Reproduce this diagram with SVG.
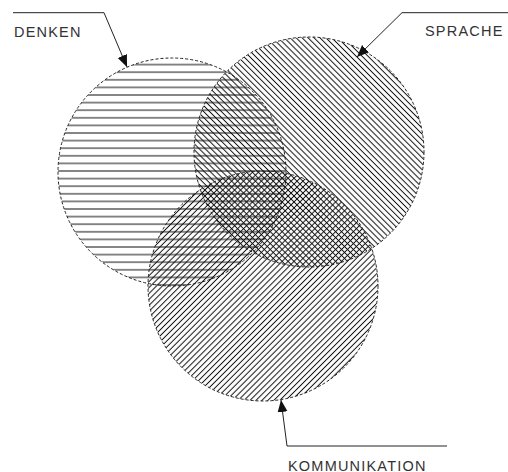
<svg xmlns="http://www.w3.org/2000/svg" width="508" height="472" viewBox="0 0 508 472">
<defs>
<style>
.outline{fill:none;stroke:#222;stroke-width:1;stroke-dasharray:3 2}
.lbl{font-family:"Liberation Sans",Arial,sans-serif;font-size:14.5px;fill:#333;letter-spacing:1.2px}
.lead{fill:none;stroke:#222;stroke-width:1;marker-end:url(#arr)}
.hl{stroke:#111;stroke-width:1}
</style>
<pattern id="hH" patternUnits="userSpaceOnUse" width="20" height="7.6">
<line class="hl" x1="0" y1="3.8" x2="20" y2="3.8"/>
</pattern>
<pattern id="hB" patternUnits="userSpaceOnUse" width="20" height="4.2" patternTransform="rotate(45)">
<line class="hl" x1="0" y1="2.1" x2="20" y2="2.1"/>
</pattern>
<pattern id="hS" patternUnits="userSpaceOnUse" width="20" height="4.2" patternTransform="rotate(-45)">
<line class="hl" x1="0" y1="2.1" x2="20" y2="2.1"/>
</pattern>
<marker id="arr" markerUnits="userSpaceOnUse" markerWidth="14" markerHeight="12" refX="12" refY="5" orient="auto">
<path d="M0 0 L12 5 L0 10 Z" fill="#111"/>
</marker>
</defs>
<rect width="508" height="472" fill="#fff"/>
<g id="denken">
<circle cx="172" cy="172" r="114" fill="url(#hH)"/>
<circle class="outline" cx="172" cy="172" r="114"/>
<text class="lbl" x="14" y="36.5">DENKEN</text>
</g>
<g id="sprache">
<circle cx="309" cy="152" r="115" fill="url(#hB)"/>
<circle class="outline" cx="309" cy="152" r="115"/>
<text class="lbl" x="425" y="36">SPRACHE</text>
</g>
<g id="kommunikation">
<circle cx="263" cy="286" r="115" fill="url(#hS)"/>
<circle class="outline" cx="263" cy="286" r="115"/>
<text class="lbl" x="288" y="470.5">KOMMUNIKATION</text>
</g>
<g id="connectors">
<path class="lead" d="M13 12.7 H104 L127 67"/>
<path class="lead" d="M508 12.7 H402 L357 57"/>
<path class="lead" d="M447 446 H287 L281 400"/>
</g>
</svg>
